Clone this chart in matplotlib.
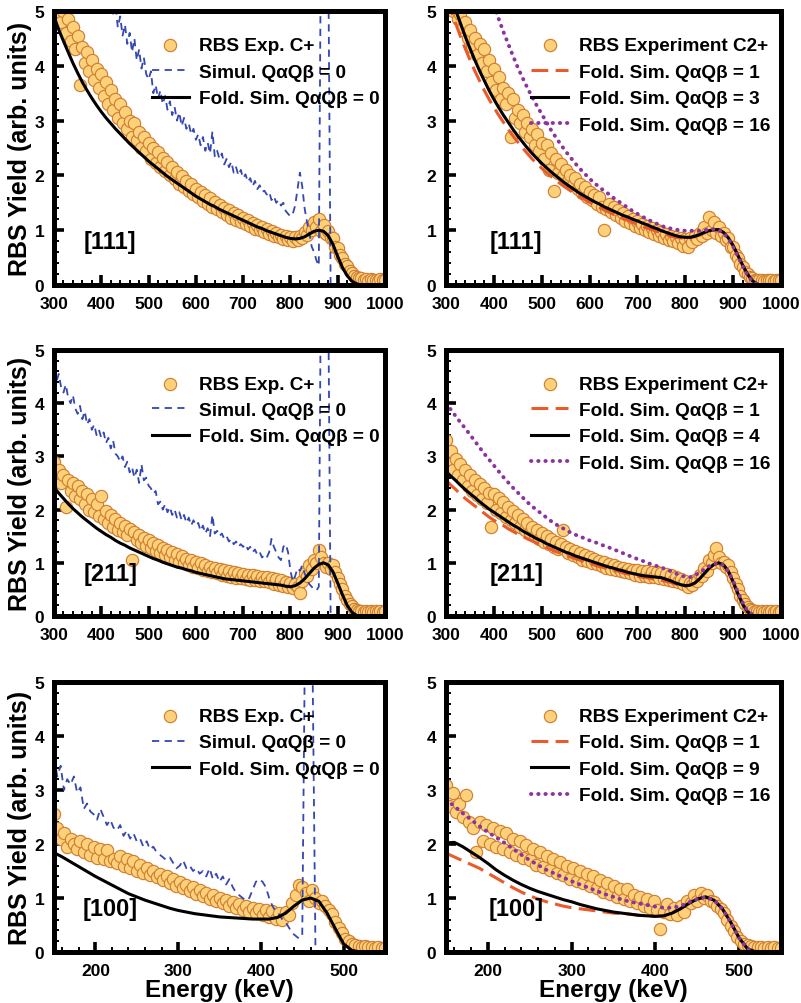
import numpy as np
import matplotlib
matplotlib.use('Agg')
import matplotlib.pyplot as plt
from matplotlib.ticker import MultipleLocator

plt.rcParams['font.family'] = ['Liberation Sans', 'DejaVu Sans']
plt.rcParams['font.weight'] = 'bold'

# ---------------- data ----------------
# Top row, [111]
A_exp_start, A_exp_step = 300, 5
A_exp = [5.3, 4.95, 5.15, 4.8, 5.0, 4.6, 4.85, 4.45, 4.7, 4.3,
         4.55, 3.65, 4.35, 4.05, 4.25, 3.9, 4.1, 3.75, 3.95, 3.6,
         3.85, 3.45, 3.7, 3.3, 3.55, 3.2, 3.4, 3.05, 3.3, 2.95,
         3.15, 2.85, 3.0, 2.7, 2.95, 2.65, 2.8, 2.5, 2.7, 2.45,
         2.6, 2.3, 2.5, 2.22, 2.42, 2.15, 2.32, 2.08, 2.25, 2.0,
         2.15, 1.93, 2.06, 1.85, 1.98, 1.78, 1.9, 1.72, 1.84, 1.66,
         1.76, 1.6, 1.7, 1.53, 1.64, 1.47, 1.58, 1.42, 1.52, 1.38,
         1.46, 1.33, 1.4, 1.28, 1.36, 1.23, 1.31, 1.19, 1.27, 1.15,
         1.22, 1.11, 1.18, 1.07, 1.13, 1.03, 1.09, 1.0, 1.05, 0.96,
         1.02, 0.93, 0.98, 0.9, 0.95, 0.87, 0.92, 0.84, 0.9, 0.82,
         0.88, 0.8, 0.87, 0.82, 0.9, 0.86, 0.96, 0.92, 1.05, 1.0,
         1.15, 1.05, 1.2, 0.98, 1.1, 0.93, 0.98, 0.85, 0.86, 0.7,
         0.68, 0.55, 0.5, 0.38, 0.34, 0.25, 0.22, 0.16, 0.15, 0.12,
         0.12, 0.09, 0.11, 0.08, 0.11, 0.09, 0.1, 0.08, 0.11, 0.09,
         0.1]
A_fold_start = 300
A_fold = [4.90, 4.66, 4.45, 4.25, 4.05, 3.87, 3.70, 3.55, 3.41, 3.28,
          3.16, 3.05, 2.95, 2.85, 2.76, 2.67, 2.58, 2.50, 2.42, 2.34,
          2.26, 2.19, 2.12, 2.05, 1.98, 1.92, 1.86, 1.80, 1.74, 1.68,
          1.62, 1.57, 1.52, 1.47, 1.43, 1.38, 1.34, 1.30, 1.26, 1.22,
          1.18, 1.14, 1.10, 1.06, 1.03, 0.99, 0.96, 0.93, 0.90, 0.87,
          0.85, 0.84, 0.85, 0.88, 0.93, 0.98, 1.00, 0.98, 0.90, 0.74,
          0.52, 0.32, 0.17, 0.07, 0.02, 0.00]
A_sim_start = 400
A_sim = [5.8, 5.6, 5.5, 5.2, 5.3, 4.95, 5.1, 4.7, 4.9, 4.55,
         4.75, 4.4, 4.6, 4.25, 4.5, 4.1, 4.3, 3.95, 4.15, 3.85,
         3.75, 3.9, 3.5, 3.65, 3.4, 3.55, 3.3, 3.45, 3.2, 3.35,
         3.1, 3.25, 3.0, 3.15, 2.9, 3.05, 2.85, 2.95, 2.75, 2.85,
         2.65, 2.75, 2.55, 2.7, 2.45, 2.6, 2.4, 2.8, 2.35, 2.45,
         2.3, 2.4, 2.2, 2.3, 2.15, 2.25, 2.05, 2.15, 2.0, 2.1,
         1.95, 2.02, 1.88, 1.95, 1.8, 1.9, 1.75, 1.82, 1.7, 1.72,
         1.65, 1.7, 1.55, 1.62, 1.5, 1.55, 1.45, 1.5, 1.35, 1.3,
         1.25, 1.3, 1.45, 1.75, 2.05, 1.8, 1.4, 1.15, 0.95, 0.7,
         0.6, 0.45, 0.35, 7.0, 12.0, 10.0, 6.0, 0.0]

B_exp = [5.4, 5.2, 5.25, 5.0, 5.1, 4.85, 4.95, 4.7, 4.8, 4.5,
         4.65, 4.35, 4.5, 4.2, 4.4, 4.05, 4.3, 3.9, 4.1, 3.7,
         3.95, 3.55, 3.8, 3.4, 3.6, 3.3, 3.5, 2.7, 3.4, 3.05,
         3.2, 2.95, 3.1, 2.8, 2.95, 2.7, 2.85, 2.55, 2.75, 2.45,
         2.6, 2.3, 2.55, 2.1, 2.4, 1.72, 2.3, 2.05, 2.2, 1.98,
         2.1, 1.9, 2.0, 1.82, 1.95, 1.75, 1.85, 1.68, 1.78, 1.6,
         1.7, 1.55, 1.65, 1.48, 1.6, 1.42, 1.0, 1.38, 1.48, 1.33,
         1.42, 1.27, 1.36, 1.22, 1.31, 1.17, 1.26, 1.13, 1.21, 1.08,
         1.16, 1.04, 1.12, 1.0, 1.08, 0.96, 1.04, 0.93, 1.0, 0.9,
         0.96, 0.86, 0.93, 0.83, 0.9, 0.8, 0.88, 0.76, 0.86, 0.72,
         0.84, 0.7, 0.85, 0.78, 0.9, 0.84, 0.95, 0.9, 1.05, 0.95,
         1.25, 1.0, 1.15, 0.95, 1.05, 0.9, 0.95, 0.82, 0.85, 0.7,
         0.7, 0.55, 0.5, 0.38, 0.32, 0.24, 0.2, 0.15, 0.13, 0.1,
         0.1, 0.09, 0.1, 0.08, 0.1, 0.09, 0.1, 0.08, 0.1, 0.09,
         0.1]
B_fold1_start = 300
B_fold1 = [5.30, 5.02, 4.78, 4.54, 4.32, 4.11, 3.91, 3.73, 3.55, 3.39,
           3.24, 3.10, 2.97, 2.84, 2.72, 2.61, 2.50, 2.40, 2.30, 2.21,
           2.13, 2.05, 1.98, 1.91, 1.84, 1.78, 1.72, 1.66, 1.61, 1.56,
           1.51, 1.46, 1.42, 1.37, 1.33, 1.29, 1.25, 1.21, 1.18, 1.14,
           1.11, 1.07, 1.04, 1.01, 0.98, 0.95, 0.92, 0.89, 0.87, 0.86,
           0.85, 0.86, 0.88, 0.91, 0.95, 0.98, 1.00, 1.00, 0.95, 0.85,
           0.71, 0.53, 0.35, 0.19, 0.07, 0.02]
B_fold3_start = 310
B_fold3 = [5.30, 5.02, 4.78, 4.54, 4.32, 4.11, 3.91, 3.73, 3.55, 3.39,
           3.24, 3.10, 2.97, 2.84, 2.72, 2.61, 2.50, 2.40, 2.31, 2.22,
           2.14, 2.06, 1.99, 1.92, 1.85, 1.79, 1.73, 1.67, 1.62, 1.57,
           1.52, 1.48, 1.43, 1.39, 1.35, 1.31, 1.27, 1.24, 1.20, 1.17,
           1.13, 1.10, 1.06, 1.03, 0.99, 0.96, 0.93, 0.90, 0.88, 0.87,
           0.87, 0.89, 0.92, 0.96, 0.99, 1.01, 1.01, 0.96, 0.86, 0.72,
           0.54, 0.36, 0.20, 0.08, 0.02]
B_fold16_start = 400
B_fold16 = [5.10, 4.86, 4.62, 4.40, 4.18, 3.97, 3.78, 3.60, 3.43, 3.27,
            3.12, 2.97, 2.82, 2.69, 2.56, 2.44, 2.33, 2.22, 2.12, 2.03,
            1.94, 1.86, 1.79, 1.72, 1.66, 1.59, 1.53, 1.47, 1.41, 1.35,
            1.30, 1.25, 1.20, 1.16, 1.12, 1.08, 1.05, 1.03, 1.01, 1.00,
            0.99, 0.99, 0.99, 0.99, 1.00, 1.01, 1.02, 1.00, 0.95, 0.84,
            0.70, 0.52, 0.34, 0.18, 0.07, 0.02]

# Middle row, [211]
C_exp = [2.9, 2.6, 2.75, 2.5, 2.65, 2.05, 2.55, 2.35, 2.5, 2.25,
         2.45, 2.2, 2.35, 2.1, 2.3, 2.0, 2.2, 1.95, 2.1, 1.88,
         2.25, 1.82, 1.98, 1.75, 1.9, 1.68, 1.82, 1.62, 1.75, 1.57,
         1.7, 1.52, 1.64, 1.06, 1.58, 1.42, 1.52, 1.37, 1.47, 1.32,
         1.42, 1.27, 1.38, 1.22, 1.33, 1.18, 1.28, 1.14, 1.24, 1.1,
         1.2, 1.06, 1.16, 1.02, 1.12, 0.99, 1.08, 0.96, 1.05, 0.93,
         1.02, 0.9, 0.99, 0.87, 0.96, 0.85, 0.93, 0.83, 0.9, 0.8,
         0.88, 0.78, 0.86, 0.76, 0.84, 0.74, 0.82, 0.72, 0.8, 0.71,
         0.79, 0.7, 0.78, 0.68, 0.77, 0.67, 0.76, 0.66, 0.74, 0.65,
         0.73, 0.63, 0.71, 0.61, 0.69, 0.59, 0.67, 0.56, 0.64, 0.54,
         0.62, 0.52, 0.6, 0.55, 0.43, 0.65, 0.8, 0.75, 0.95, 0.88,
         1.05, 1.0, 1.25, 1.1, 1.0, 0.92, 1.0, 0.88, 0.95, 0.82,
         0.72, 0.6, 0.5, 0.38, 0.3, 0.22, 0.18, 0.14, 0.12, 0.1,
         0.1, 0.08, 0.1, 0.08, 0.09, 0.08, 0.1, 0.08, 0.09, 0.08,
         0.09]
C_fold_start = 300
C_fold = [2.42, 2.31, 2.21, 2.11, 2.02, 1.94, 1.86, 1.79, 1.72, 1.65,
          1.59, 1.53, 1.48, 1.42, 1.37, 1.33, 1.28, 1.24, 1.20, 1.16,
          1.12, 1.08, 1.05, 1.01, 0.98, 0.95, 0.92, 0.90, 0.87, 0.85,
          0.82, 0.80, 0.78, 0.76, 0.74, 0.72, 0.70, 0.69, 0.68, 0.67,
          0.66, 0.65, 0.64, 0.63, 0.62, 0.61, 0.60, 0.59, 0.58, 0.56,
          0.55, 0.57, 0.62, 0.70, 0.80, 0.90, 0.97, 1.00, 0.96, 0.83,
          0.62, 0.40, 0.20, 0.07, 0.01, 0.00]
C_sim_start = 300
C_sim = [4.6, 4.4, 4.55, 4.3, 4.2, 4.35, 4.1, 4.0, 4.15, 3.9,
         3.8, 3.95, 3.7, 3.85, 3.6, 3.7, 3.5, 3.6, 3.4, 3.5,
         3.35, 3.45, 3.25, 3.35, 3.15, 3.3, 3.05, 3.0, 2.9, 3.0,
         2.8, 2.9, 2.7, 2.8, 2.6, 2.75, 2.5, 2.85, 2.55, 2.6,
         2.45, 2.4, 2.3, 2.35, 2.1, 2.15, 2.0, 2.1, 1.95, 2.05,
         1.9, 2.0, 1.85, 1.95, 1.8, 1.9, 1.75, 1.85, 1.7, 1.8,
         1.7, 1.75, 1.6, 1.7, 1.55, 1.65, 1.5, 1.9, 1.55, 1.6,
         1.5, 1.55, 1.45, 1.5, 1.4, 1.45, 1.35, 1.4, 1.3, 1.35,
         1.3, 1.35, 1.25, 1.3, 1.2, 1.25, 1.15, 1.2, 1.1, 1.15,
         1.1, 1.2, 1.45, 1.3, 1.2, 1.1, 1.05, 1.3, 1.35, 1.2,
         0.85, 0.65, 0.75, 0.9, 0.85, 0.95, 0.8, 0.7, 0.6, 0.55,
         0.5, 0.48, 0.55, 7.0, 12.0, 10.0, 6.0, 0.0]

D_exp = [3.3, 2.85, 3.1, 2.75, 2.95, 2.65, 2.85, 2.55, 2.75, 2.45,
         2.65, 2.35, 2.55, 2.28, 2.48, 2.2, 2.4, 2.12, 2.32, 1.67,
         2.3, 2.0, 2.22, 1.93, 2.15, 1.86, 2.05, 1.8, 1.98, 1.74,
         1.9, 1.68, 1.82, 1.62, 1.75, 1.56, 1.68, 1.5, 1.62, 1.45,
         1.56, 1.4, 1.5, 1.35, 1.45, 1.3, 1.4, 1.26, 1.36, 1.62,
         1.3, 1.18, 1.26, 1.14, 1.22, 1.1, 1.18, 1.06, 1.14, 1.03,
         1.1, 1.0, 1.07, 0.97, 1.04, 0.94, 1.01, 0.91, 0.98, 0.88,
         0.95, 0.86, 0.93, 0.84, 0.91, 0.82, 0.89, 0.8, 0.87, 0.78,
         0.86, 0.76, 0.85, 0.75, 0.84, 0.74, 0.83, 0.73, 0.82, 0.72,
         0.8, 0.7, 0.79, 0.68, 0.77, 0.66, 0.74, 0.63, 0.7, 0.6,
         0.66, 0.55, 0.62, 0.58, 0.68, 0.65, 0.78, 0.75, 0.9, 0.85,
         1.05, 1.0, 1.15, 1.28, 1.1, 1.0, 1.02, 0.92, 0.95, 0.82,
         0.72, 0.6, 0.5, 0.38, 0.3, 0.22, 0.17, 0.13, 0.11, 0.1,
         0.1, 0.08, 0.1, 0.08, 0.09, 0.08, 0.1, 0.08, 0.09, 0.08,
         0.09]
D_fold_start = 300
D_fold1 = [2.55, 2.46, 2.38, 2.29, 2.21, 2.14, 2.07, 2.00, 1.93, 1.86,
           1.80, 1.75, 1.70, 1.64, 1.59, 1.54, 1.50, 1.45, 1.41, 1.37,
           1.33, 1.29, 1.25, 1.21, 1.18, 1.14, 1.11, 1.08, 1.05, 1.02,
           0.99, 0.96, 0.93, 0.91, 0.88, 0.86, 0.84, 0.81, 0.79, 0.77,
           0.75, 0.73, 0.72, 0.70, 0.69, 0.67, 0.65, 0.63, 0.60, 0.58,
           0.56, 0.58, 0.62, 0.70, 0.80, 0.90, 0.97, 1.00, 0.96, 0.84,
           0.64, 0.42, 0.22, 0.08, 0.02]
D_fold4 = [2.72, 2.63, 2.55, 2.46, 2.38, 2.30, 2.23, 2.15, 2.08, 2.01,
           1.95, 1.89, 1.83, 1.77, 1.71, 1.66, 1.60, 1.55, 1.50, 1.45,
           1.41, 1.36, 1.32, 1.28, 1.24, 1.20, 1.17, 1.13, 1.10, 1.07,
           1.04, 1.01, 0.98, 0.95, 0.92, 0.90, 0.87, 0.85, 0.82, 0.80,
           0.78, 0.76, 0.75, 0.74, 0.73, 0.72, 0.69, 0.66, 0.62, 0.59,
           0.57, 0.58, 0.62, 0.70, 0.80, 0.90, 0.97, 1.00, 0.96, 0.84,
           0.64, 0.42, 0.22, 0.08, 0.02]
D_fold16 = [4.00, 3.88, 3.76, 3.64, 3.53, 3.41, 3.29, 3.17, 3.05, 2.94,
            2.83, 2.72, 2.61, 2.51, 2.41, 2.32, 2.23, 2.14, 2.06, 1.99,
            1.92, 1.85, 1.78, 1.72, 1.67, 1.62, 1.57, 1.53, 1.49, 1.46,
            1.42, 1.39, 1.36, 1.32, 1.29, 1.25, 1.22, 1.18, 1.14, 1.11,
            1.07, 1.04, 1.00, 0.97, 0.94, 0.91, 0.88, 0.84, 0.80, 0.76,
            0.74, 0.73, 0.76, 0.82, 0.88, 0.94, 0.98, 0.99, 0.95, 0.84,
            0.66, 0.45, 0.25, 0.10, 0.03]

# Bottom row, [100]
E_exp_start, E_exp_step = 150, 4
E_exp = [2.55, 2.3, 2.1, 2.2, 1.95, 2.1, 2.0, 1.9, 2.05, 1.85,
         2.0, 1.8, 1.95, 1.75, 1.9, 1.72, 1.88, 1.68, 1.72, 1.65,
         1.78, 1.6, 1.72, 1.55, 1.68, 1.5, 1.62, 1.46, 1.56, 1.42,
         1.5, 1.38, 1.45, 1.33, 1.4, 1.28, 1.35, 1.22, 1.3, 1.18,
         1.25, 1.13, 1.2, 1.08, 1.15, 1.03, 1.1, 0.98, 1.05, 0.94,
         1.0, 0.9, 0.96, 0.86, 0.92, 0.82, 0.88, 0.78, 0.85, 0.75,
         0.82, 0.72, 0.8, 0.68, 0.78, 0.65, 0.76, 0.62, 0.72, 0.6,
         0.75, 0.68, 0.9, 1.05, 1.25, 1.2, 1.1, 0.95, 1.15, 1.0,
         0.9, 0.95, 0.85, 0.78, 0.7, 0.55, 0.45, 0.35, 0.25, 0.2,
         0.15, 0.13, 0.12, 0.1, 0.12, 0.09, 0.1, 0.08, 0.09, 0.08,
         0.08]
E_fold_start = 150
E_fold = [1.84, 1.76, 1.67, 1.58, 1.49, 1.40, 1.32, 1.24, 1.16, 1.08,
          1.02, 0.96, 0.91, 0.86, 0.81, 0.77, 0.74, 0.71, 0.69, 0.67,
          0.65, 0.64, 0.63, 0.62, 0.61, 0.61, 0.61, 0.64, 0.72, 0.85,
          0.96, 1.00, 0.94, 0.72, 0.43, 0.15, 0.03, 0.00]
E_sim_start = 150
E_sim = [3.6, 3.25, 3.45, 3.0, 3.2, 3.1, 3.25, 2.95, 3.05, 2.65,
         2.75, 2.6, 2.55, 2.45, 2.65, 2.5, 2.35, 2.45, 2.3, 2.25,
         2.35, 2.15, 2.25, 2.1, 2.2, 2.05, 2.1, 1.95, 2.05, 1.9,
         1.95, 1.85, 1.8, 1.75, 1.7, 1.75, 1.65, 1.55, 1.6, 1.7,
         1.55, 1.6, 1.5, 1.55, 1.45, 1.5, 1.4, 1.55, 1.35, 1.45,
         1.3, 1.4, 1.25, 1.35, 1.2, 1.1, 1.05, 1.0, 0.95, 1.0,
         1.15, 1.3, 1.35, 1.3, 1.2, 1.0, 0.85, 0.75, 0.7, 0.6,
         0.55, 0.45, 0.35, 0.3, 0.25, 0.3, 7.0, 10.0, 6.0, 0.0]

F_exp = [3.1, 2.7, 2.95, 2.6, 2.75, 2.5, 2.9, 2.4, 2.3, 1.85,
         2.4, 2.05, 2.35, 2.0, 2.3, 1.95, 2.25, 1.9, 2.2, 1.85,
         2.1, 1.8, 2.05, 1.75, 1.98, 1.7, 1.9, 1.62, 1.85, 1.58,
         1.78, 1.52, 1.72, 1.47, 1.66, 1.42, 1.6, 1.36, 1.55, 1.32,
         1.5, 1.27, 1.45, 1.22, 1.4, 1.18, 1.34, 1.12, 1.28, 1.07,
         1.22, 1.02, 1.16, 0.98, 1.16, 0.94, 1.06, 0.9, 1.02, 0.86,
         0.98, 0.82, 0.94, 0.78, 0.42, 0.75, 0.88, 0.7, 0.82, 0.68,
         0.85, 0.75, 0.95, 0.9, 1.05, 0.95, 1.1, 1.0, 1.05, 0.95,
         0.92, 0.85, 0.8, 0.72, 0.6, 0.48, 0.38, 0.28, 0.2, 0.15,
         0.13, 0.11, 0.1, 0.09, 0.1, 0.08, 0.09, 0.08, 0.09, 0.08,
         0.08]
F_fold_start = 150
F_fold1 = [1.83, 1.76, 1.69, 1.62, 1.55, 1.46, 1.37, 1.28, 1.19, 1.11,
           1.04, 0.98, 0.93, 0.89, 0.85, 0.82, 0.80, 0.78, 0.76, 0.74,
           0.72, 0.71, 0.70, 0.68, 0.67, 0.66, 0.67, 0.72, 0.80, 0.90,
           0.98, 1.02, 0.96, 0.80, 0.55, 0.26, 0.06, 0.00]
F_fold9 = [2.02, 2.03, 1.95, 1.85, 1.75, 1.64, 1.52, 1.42, 1.33, 1.25,
           1.18, 1.12, 1.07, 1.02, 0.97, 0.93, 0.88, 0.84, 0.80, 0.77,
           0.74, 0.72, 0.70, 0.68, 0.67, 0.66, 0.67, 0.72, 0.80, 0.90,
           0.98, 1.02, 0.96, 0.80, 0.55, 0.26, 0.06, 0.00]
F_fold16 = [2.82, 2.70, 2.57, 2.45, 2.33, 2.22, 2.12, 2.02, 1.91, 1.80,
            1.70, 1.61, 1.52, 1.45, 1.38, 1.31, 1.25, 1.19, 1.13, 1.07,
            1.02, 0.97, 0.93, 0.90, 0.87, 0.84, 0.82, 0.82, 0.85, 0.92,
            0.98, 1.02, 0.96, 0.80, 0.55, 0.26, 0.06, 0.00]

crystal_labels = ['[111]', '[211]', '[100]']
left_q = ['0', '0', '0']
right_q = [['1', '3', '16'], ['1', '4', '16'], ['1', '9', '16']]
x_ranges = [(300, 1000), (300, 1000), (150, 550)]

# ---------------- style ----------------
FACE = '#FDD17A'
EDGE = '#D07F33'
BLUE = '#3547B0'
ORANGE = '#EA5A2B'
PURPLE = '#8C33A0'


def grid(start, step, vals):
    return start + step * np.arange(len(vals))


fig = plt.figure(figsize=(8.01, 10.04), dpi=100)
W, H = 801.0, 1004.0
rows_px = [(12, 286), (351, 617), (683, 953)]
cols_px = [(54, 385), (446, 781)]

axes = []
for r, (t, b) in enumerate(rows_px):
    row = []
    for c, (l, rr) in enumerate(cols_px):
        ax = fig.add_axes([l / W, 1 - b / H, (rr - l) / W, (b - t) / H])
        row.append(ax)
    axes.append(row)


def style(ax, xr):
    ax.set_xlim(*xr)
    ax.set_ylim(0, 5)
    ax.xaxis.set_major_locator(MultipleLocator(100))
    ax.xaxis.set_minor_locator(MultipleLocator(20))
    ax.yaxis.set_major_locator(MultipleLocator(1))
    ax.yaxis.set_minor_locator(MultipleLocator(0.2))
    ax.tick_params(which='major', direction='in', length=7.5, width=2.6,
                   labelsize=12.5, top=False, right=False)
    ax.tick_params(which='minor', direction='in', length=3.8, width=1.4,
                   top=False, right=False)
    ax.tick_params(axis='x', which='major', pad=8)
    ax.tick_params(axis='y', which='major', pad=7)
    for s in ax.spines.values():
        s.set_linewidth(3.6)
        s.set_zorder(6)


def scatter_exp(ax, x, y):
    return ax.scatter(x, y, s=78, facecolor=FACE, edgecolor=EDGE,
                      linewidth=0.85, zorder=2)


def legend(ax, handles, labels, bx, by):
    ax.legend(handles, labels, loc='upper right', bbox_to_anchor=(bx, by),
              borderaxespad=0, borderpad=0, frameon=False, fontsize=13.7,
              handlelength=1.95, handletextpad=0.55, labelspacing=0.48,
              scatterpoints=1)


exp_left = [(A_exp_start, A_exp_step, A_exp), (A_exp_start, A_exp_step, C_exp),
            (E_exp_start, E_exp_step, E_exp)]
exp_right = [(A_exp_start, A_exp_step, B_exp), (A_exp_start, A_exp_step, D_exp),
             (E_exp_start, E_exp_step, F_exp)]
sim_left = [(A_sim_start, 5, A_sim), (C_sim_start, 5, C_sim), (E_sim_start, 4, E_sim)]
fold_left = [(A_fold_start, 10, A_fold), (C_fold_start, 10, C_fold), (E_fold_start, 10, E_fold)]
fold_right = [
    [(B_fold1_start, 10, B_fold1), (B_fold3_start, 10, B_fold3), (B_fold16_start, 10, B_fold16)],
    [(D_fold_start, 10, D_fold1), (D_fold_start, 10, D_fold4), (D_fold_start, 10, D_fold16)],
    [(F_fold_start, 10, F_fold1), (F_fold_start, 10, F_fold9), (F_fold_start, 10, F_fold16)],
]

for r in range(3):
    xr = x_ranges[r]
    # left panel
    ax = axes[r][0]
    style(ax, xr)
    st, sp, v = exp_left[r]
    h0 = scatter_exp(ax, grid(st, sp, v), v)
    st, sp, v = sim_left[r]
    h1, = ax.plot(grid(st, sp, v), v, color=BLUE, lw=1.3, ls=(0, (4, 3)), zorder=3)
    st, sp, v = fold_left[r]
    h2, = ax.plot(grid(st, sp, v), v, color='black', lw=2.2, zorder=4)
    legend(ax, [h0, h1, h2],
           ['RBS Exp. C+', 'Simul. QαQβ = 0', 'Fold. Sim. QαQβ = ' + left_q[r]],
           0.985, 0.905)
    ax.text(0.17, 0.16, crystal_labels[r], transform=ax.transAxes, fontsize=17,
            fontweight='bold', ha='center', va='center')
    ax.set_ylabel('RBS Yield (arb. units)', fontsize=18, fontweight='bold')
    ax.yaxis.set_label_coords(-0.066, 0.5)

    # right panel
    ax = axes[r][1]
    style(ax, xr)
    st, sp, v = exp_right[r]
    g0 = scatter_exp(ax, grid(st, sp, v), v)
    (s1, p1, v1), (s2, p2, v2), (s3, p3, v3) = fold_right[r]
    g1, = ax.plot(grid(s1, p1, v1), v1, color=ORANGE, lw=2.2, ls=(0, (5.5, 2.4)), zorder=3)
    g2, = ax.plot(grid(s2, p2, v2), v2, color='black', lw=2.2, zorder=4)
    g3, = ax.plot(grid(s3, p3, v3), v3, color=PURPLE, lw=2.8, ls=(0, (0.1, 1.75)),
                  dash_capstyle='round', zorder=5)
    q = right_q[r]
    legend(ax, [g0, g1, g2, g3],
           ['RBS Experiment C2+', 'Fold. Sim. QαQβ = ' + q[0],
            'Fold. Sim. QαQβ = ' + q[1], 'Fold. Sim. QαQβ = ' + q[2]],
           0.967, 0.905)
    ax.text(0.21, 0.16, crystal_labels[r], transform=ax.transAxes, fontsize=17,
            fontweight='bold', ha='center', va='center')

    if r == 2:
        for a in axes[r]:
            a.set_xlabel('Energy (keV)', fontsize=17.5, fontweight='bold')
            a.xaxis.set_label_coords(0.5, -0.095)

fig.savefig('out.png', dpi=100)
